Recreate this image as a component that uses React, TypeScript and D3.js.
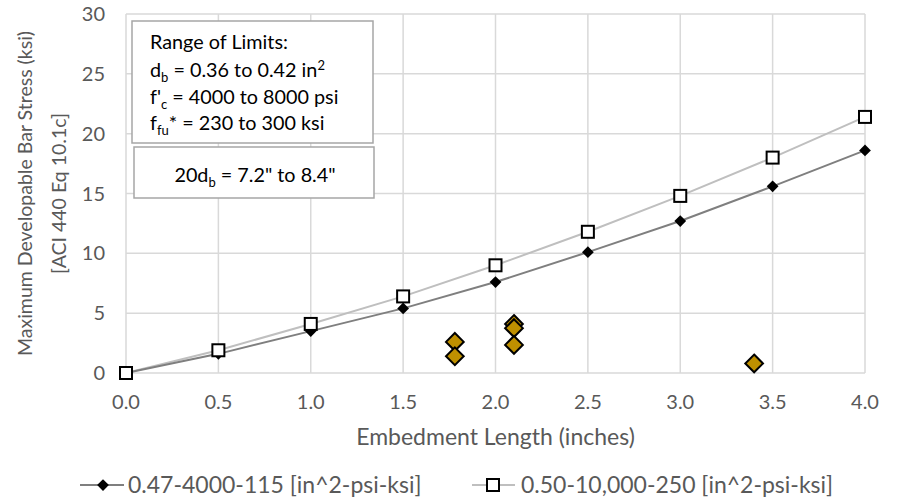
import React, { useEffect, useRef } from "react";
import * as d3 from "d3";

const embed = [0, 0.5, 1.0, 1.5, 2.0, 2.5, 3.0, 3.5, 4.0];
const stressLow = [0, 1.6, 3.5, 5.4, 7.6, 10.1, 12.7, 15.6, 18.6];
const stressHigh = [0, 1.9, 4.1, 6.4, 9.0, 11.8, 14.8, 18.0, 21.4];
const testX = [1.78, 1.78, 2.1, 2.1, 2.1, 3.4];
const testY = [2.6, 1.4, 4.1, 3.75, 2.35, 0.8];
const xTicks = [0, 0.5, 1, 1.5, 2, 2.5, 3, 3.5, 4];
const yTicks = [0, 5, 10, 15, 20, 25, 30];
const seriesNames = ["0.47-4000-115 [in^2-psi-ksi]", "0.50-10,000-250 [in^2-psi-ksi]"];

const FONT = "Lato, 'Open Sans', sans-serif";

export default function App() {
  const ref = useRef<SVGSVGElement>(null);

  useEffect(() => {
    const width = 898;
    const height = 497;
    const margin = { top: 14, right: 33, bottom: 124, left: 126 };
    const svg = d3.select(ref.current);
    svg.selectAll("*").remove();
    svg.attr("width", width).attr("height", height).attr("viewBox", `0 0 ${width} ${height}`);
    svg.append("rect").attr("width", width).attr("height", height).attr("fill", "#fff");

    const x = d3.scaleLinear().domain([0, 4]).range([margin.left, width - margin.right]);
    const y = d3.scaleLinear().domain([0, 30]).range([height - margin.bottom, margin.top]);

    const grid = svg.append("g").attr("stroke", "#d9d9d9").attr("stroke-width", 1.5);
    xTicks.forEach((t) =>
      grid.append("line").attr("x1", x(t)).attr("x2", x(t)).attr("y1", y(0)).attr("y2", y(30))
    );
    yTicks.forEach((t) =>
      grid.append("line").attr("x1", x(0)).attr("x2", x(4)).attr("y1", y(t)).attr("y2", y(t))
    );

    const gray = (g: any, size: number) =>
      g.attr("font-family", FONT).attr("font-size", size).attr("fill", "#595959");

    xTicks.forEach((t) =>
      gray(svg.append("text"), 20)
        .attr("x", x(t))
        .attr("y", y(0) + 36)
        .attr("text-anchor", "middle")
        .text(d3.format(".1f")(t))
    );
    yTicks.forEach((t) =>
      gray(svg.append("text"), 20)
        .attr("x", x(0) - 21)
        .attr("y", y(t) + 7)
        .attr("text-anchor", "end")
        .text(t)
    );

    gray(svg.append("text"), 23)
      .attr("x", (x(0) + x(4)) / 2)
      .attr("y", 445)
      .attr("text-anchor", "middle")
      .text("Embedment Length (inches)");

    const yTitle = gray(svg.append("text"), 19.5)
      .attr("transform", `translate(32,${(y(0) + y(30)) / 2}) rotate(-90)`)
      .attr("text-anchor", "middle");
    yTitle.append("tspan").attr("x", 0).attr("dy", 0).text("Maximum Developable Bar Stress (ksi)");
    yTitle.append("tspan").attr("x", 0).attr("dy", 34).text("[ACI 440 Eq 10.1c]");

    const line = d3
      .line<number>()
      .x((_, i) => x(embed[i]))
      .y((d) => y(d));

    svg.append("path").datum(stressHigh).attr("d", line).attr("fill", "none")
      .attr("stroke", "#bfbfbf").attr("stroke-width", 2);
    svg.append("path").datum(stressLow).attr("d", line).attr("fill", "none")
      .attr("stroke", "#7f7f7f").attr("stroke-width", 2);

    const diamond = d3.symbol().type(d3.symbolDiamond2);

    stressLow.forEach((v, i) =>
      svg.append("path")
        .attr("d", diamond.size(88)())
        .attr("transform", `translate(${x(embed[i])},${y(v)})`)
        .attr("fill", "#000")
    );
    stressHigh.forEach((v, i) =>
      svg.append("rect")
        .attr("x", x(embed[i]) - 6)
        .attr("y", y(v) - 6)
        .attr("width", 12)
        .attr("height", 12)
        .attr("fill", "#fff")
        .attr("stroke", "#000")
        .attr("stroke-width", 2)
    );

    testY.forEach((v, i) =>
      svg.append("path")
        .attr("d", diamond.size(200)())
        .attr("transform", `translate(${x(testX[i])},${y(v)})`)
        .attr("fill", "#bf9000")
        .attr("stroke", "#000")
        .attr("stroke-width", 2)
    );

    // annotation boxes
    const boxSize = 19.8;
    const subSize = 13;
    const box1 = svg.append("g");
    box1.append("rect").attr("x", 132).attr("y", 21).attr("width", 241).attr("height", 122)
      .attr("fill", "#fff").attr("stroke", "#a6a6a6").attr("stroke-width", 1.5);
    const boxText = (yy: number) =>
      box1.append("text").attr("x", 150).attr("y", yy).attr("font-family", FONT)
        .attr("font-size", boxSize).attr("fill", "#000");
    boxText(49).text("Range of Limits:");
    const t2 = boxText(77);
    t2.append("tspan").text("d");
    t2.append("tspan").attr("font-size", subSize).attr("dy", 5).text("b");
    t2.append("tspan").attr("dy", -5).text(" = 0.36 to 0.42 in");
    t2.append("tspan").attr("font-size", subSize).attr("dy", -7).text("2");
    const t3 = boxText(104);
    t3.append("tspan").text("f'");
    t3.append("tspan").attr("font-size", subSize).attr("dy", 5).text("c");
    t3.append("tspan").attr("dy", -5).text(" = 4000 to 8000 psi");
    const t4 = boxText(130);
    t4.append("tspan").text("f");
    t4.append("tspan").attr("font-size", subSize).attr("dy", 5).text("fu");
    t4.append("tspan").attr("dy", -5).text("* = 230 to 300 ksi");

    svg.append("rect").attr("x", 134).attr("y", 147).attr("width", 240).attr("height", 51)
      .attr("fill", "#fff").attr("stroke", "#a6a6a6").attr("stroke-width", 1.5);
    const t5 = svg.append("text").attr("x", 255).attr("y", 182).attr("text-anchor", "middle")
      .attr("font-family", FONT).attr("font-size", boxSize).attr("fill", "#000");
    t5.append("tspan").text("20d");
    t5.append("tspan").attr("font-size", subSize).attr("dy", 5).text("b");
    t5.append("tspan").attr("dy", -5).text(" = 7.2\" to 8.4\"");

    // legend
    const ly = 485;
    const leg = svg.append("g");
    leg.append("line").attr("x1", 80).attr("x2", 124).attr("y1", ly).attr("y2", ly)
      .attr("stroke", "#7f7f7f").attr("stroke-width", 2);
    leg.append("path").attr("d", diamond.size(88)()).attr("transform", `translate(103,${ly})`)
      .attr("fill", "#000");
    gray(leg.append("text"), 23).attr("x", 128).attr("y", 493).text(seriesNames[0]);
    leg.append("line").attr("x1", 472).attr("x2", 515).attr("y1", ly).attr("y2", ly)
      .attr("stroke", "#bfbfbf").attr("stroke-width", 2);
    leg.append("rect").attr("x", 487).attr("y", ly - 6).attr("width", 12).attr("height", 12)
      .attr("fill", "#fff").attr("stroke", "#000").attr("stroke-width", 2);
    gray(leg.append("text"), 23).attr("x", 521).attr("y", 493).text(seriesNames[1]);
  }, []);

  return <svg ref={ref} style={{ position: "absolute", left: 0, top: 0 }} />;
}
